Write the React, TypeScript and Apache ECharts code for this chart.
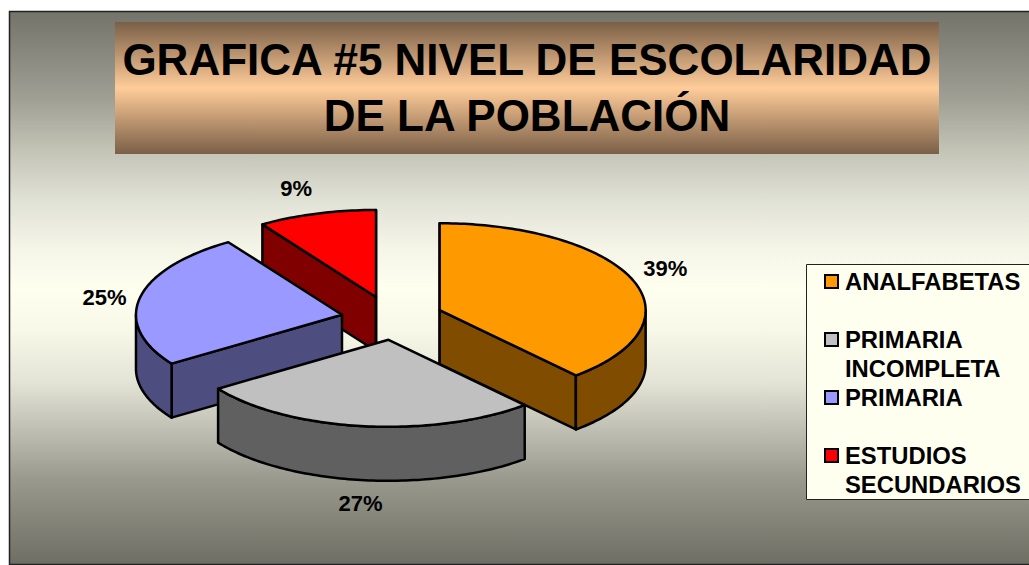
import React, { useEffect, useRef } from "react";
import * as echarts from "echarts";

const categories = ["ANALFABETAS", "PRIMARIA INCOMPLETA", "PRIMARIA", "ESTUDIOS SECUNDARIOS"];
const legendLines = [" \nANALFABETAS\n ", " \nPRIMARIA\nINCOMPLETA", " \nPRIMARIA\n ", " \nESTUDIOS\nSECUNDARIOS"];
const values = [38.5, 27, 25.2, 9.3];
const topColors = ["#FF9900", "#C0C0C0", "#9999FF", "#FF0000"];
const wallColors = ["#804D00", "#606060", "#4D4D80", "#800000"];
const drawOrder = [2, 3, 1, 0];
const sliceNudges = [[0, 0], [4, 0], [2, 1], [0, 0]];
const labelNudges = [[2, -6], [2, 10], [-3, 2], [-11, -12]];
const titleText = "GRAFICA #5 NIVEL DE ESCOLARIDAD\nDE LA POBLACIÓN";
const backgroundStops: [number, string][] = [
  [11, "#73736A"],
  [100, "#A0A095"],
  [150, "#C3C3B6"],
  [200, "#E1E2D6"],
  [250, "#F5F5E8"],
  [287, "#FFFFF0"],
  [330, "#F8F8E8"],
  [380, "#E4E4D7"],
  [430, "#BEBEB2"],
  [480, "#98988C"],
  [564, "#6E6E64"],
];

const FONT = "'Liberation Sans', Arial, sans-serif";
const CX = 391, CY = 318, RX = 206, RY = 87, DEPTH = 54, EXPLODE = 52;
const total = values.reduce((a, b) => a + b, 0);
const LINE = { stroke: "#000", lineWidth: 2.5, lineJoin: "round" as const };

function arcPoints(ax: number, ay: number, from: number, to: number, dy = 0) {
  const pts: number[][] = [];
  const n = Math.max(2, Math.ceil(Math.abs(to - from) / 0.02));
  for (let i = 0; i <= n; i++) {
    const t = from + ((to - from) * i) / n;
    pts.push([ax + RX * Math.sin(t), ay - RY * Math.cos(t) + dy]);
  }
  return pts;
}

function sliceRenderer(index: number) {
  const before = values.slice(0, index).reduce((a, b) => a + b, 0);
  return (_params: any, api: any) => {
    const value = api.value(0);
    const start = (before / total) * Math.PI * 2;
    const end = ((before + value) / total) * Math.PI * 2;
    const mid = (start + end) / 2;
    const ax = CX + EXPLODE * Math.sin(mid) + sliceNudges[index][0];
    const ay = CY - (EXPLODE * RY * Math.cos(mid)) / RX + sliceNudges[index][1];
    const children: any[] = [];
    const wall = (points: number[][]) =>
      children.push({
        type: "polygon",
        shape: { points },
        style: { fill: wallColors[index], ...LINE },
      });
    const radial = (t: number) => {
      const p = [ax + RX * Math.sin(t), ay - RY * Math.cos(t)];
      wall([[ax, ay], p, [p[0], p[1] + DEPTH], [ax, ay + DEPTH]]);
    };
    // radial walls that face the viewer
    if (Math.cos(start - Math.PI / 2) < 0 && start > 0) radial(start);
    else if (start === 0) radial(start);
    if (Math.cos(end + Math.PI / 2) < 0 && end < Math.PI * 2 - 1e-6) radial(end);
    else if (end >= Math.PI * 2 - 1e-6) radial(end);
    // outer wall: only the front half of the rim
    const from = Math.max(start, Math.PI / 2);
    const to = Math.min(end, (Math.PI * 3) / 2);
    if (to > from) {
      const upper = arcPoints(ax, ay, from, to);
      const lower = arcPoints(ax, ay, to, from, DEPTH);
      wall([...upper, ...lower]);
    }
    children.push({
      type: "polygon",
      shape: { points: [[ax, ay], ...arcPoints(ax, ay, start, end)] },
      style: { fill: topColors[index], ...LINE },
    });
    const lowerHalf = Math.cos(mid) < 0;
    children.push({
      type: "text",
      x: ax + 1.16 * RX * Math.sin(mid) + labelNudges[index][0],
      y: ay - 1.16 * RY * Math.cos(mid) + (lowerHalf ? DEPTH : 0) + labelNudges[index][1],
      style: {
        text: `${Math.round(value)}%`,
        font: `bold 22px ${FONT}`,
        fill: "#000",
        align: "center",
        verticalAlign: "middle",
      },
    });
    return { type: "group", children };
  };
}

export default function App() {
  const ref = useRef<HTMLDivElement>(null);
  useEffect(() => {
    document.body.style.margin = "0";
    const chart = echarts.init(ref.current!, undefined, { renderer: "svg" });
    chart.setOption({
      animation: false,
      backgroundColor: "#fff",
      title: {
        text: titleText,
        left: 522,
        top: 26,
        textAlign: "center",
        textStyle: { fontFamily: FONT, fontWeight: "bold", fontSize: 44, lineHeight: 56, color: "#000" },
      },
      legend: {
        orient: "vertical",
        left: 824,
        top: 238,
        padding: 0,
        itemWidth: 13,
        itemHeight: 13,
        itemGap: -29,
        align: "left",
        selectedMode: false,
        icon: "rect",
        data: categories.map((name, i) => ({
          name,
          itemStyle: { color: topColors[i], borderColor: "#000", borderWidth: 2 },
        })),
        formatter: (name: string) => legendLines[categories.indexOf(name)],
        textStyle: {
          fontFamily: FONT,
          fontWeight: "bold",
          fontSize: 23.8,
          lineHeight: 29,
          color: "#000",
          padding: [0, 0, 0, 2],
        },
      },
      graphic: [
        {
          type: "rect",
          z: -2,
          shape: { x: 9.5, y: 11.5, width: 1040, height: 553 },
          style: {
            stroke: "#222",
            lineWidth: 1.5,
            fill: new echarts.graphic.LinearGradient(
              0, 0, 0, 1,
              backgroundStops.map(([y, color]) => ({ offset: (y - 11) / 553, color })),
            ),
          },
        },
        {
          type: "rect",
          z: -1,
          shape: { x: 115, y: 22, width: 824, height: 132 },
          style: {
            fill: new echarts.graphic.LinearGradient(0, 0, 0, 1, [
              { offset: 0, color: "#7A5F47" },
              { offset: 0.5, color: "#FFCC99" },
              { offset: 1, color: "#7A5F47" },
            ]),
          },
        },
        {
          type: "rect",
          z: -1,
          shape: { x: 806.5, y: 264.5, width: 240, height: 235 },
          style: { fill: "#FFFFF0", stroke: "#222", lineWidth: 1 },
        },
      ],
      series: categories.map((name, i) => ({
        type: "custom",
        name,
        coordinateSystem: "none",
        z: 3 + drawOrder[i],
        itemStyle: { color: topColors[i] },
        silent: true,
        data: [[values[i]]],
        renderItem: sliceRenderer(i),
      })),
    });
    return () => chart.dispose();
  }, []);
  return <div ref={ref} style={{ width: 1029, height: 565, overflow: "hidden" }} />;
}
